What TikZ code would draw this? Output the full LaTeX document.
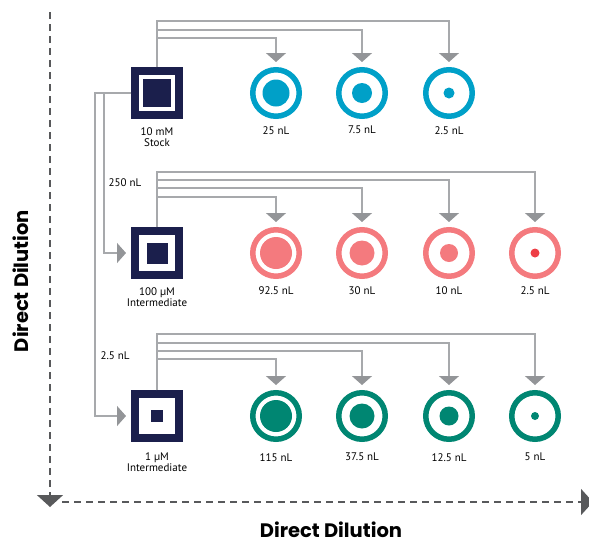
\documentclass[tikz,border=0pt]{standalone}
\usepackage{fontspec}
\setmainfont{PT Sans}
\newfontfamily\headfont{Poppins}
\usetikzlibrary{arrows.meta,positioning}

\definecolor{navy}{HTML}{1B1F4C}
\definecolor{wellblue}{HTML}{00A0C8}
\definecolor{wellpink}{HTML}{F47A7E}
\definecolor{dotred}{HTML}{EE3E46}
\definecolor{wellgreen}{HTML}{008672}
\definecolor{linegray}{HTML}{A7A9AC}
\definecolor{tipgray}{HTML}{939598}
\definecolor{axisgray}{HTML}{58595B}

\tikzset{
  vial/.style={draw=navy, line width=8pt, minimum size=44pt, inner sep=0pt},
  core/.style={fill=navy, inner sep=0pt},
  well/.style={circle, draw=#1, line width=5.5pt, minimum size=46.5pt, inner sep=0pt},
  drop/.style={circle, fill=#1, inner sep=0pt},
  link/.style={draw=linegray, line width=1.3pt, shorten >=5pt,
    -{Triangle[width=20pt,length=9pt,color=tipgray]}},
  dilaxis/.style={draw=axisgray, line width=1.5pt, dash pattern=on 7pt off 5pt,
    -{Triangle[width=26pt,length=12pt]}},
  lbl/.style={font=\fontsize{11}{11}\selectfont, align=center, inner sep=0pt},
  headline/.style={font=\headfont\bfseries\fontsize{19.5}{19.5}\selectfont, inner sep=0pt}
}

\begin{document}
\begin{tikzpicture}[x=1pt,y=-1pt]
\useasboundingbox (0,0) rectangle (589,544);

% axes
\coordinate (ytop) at (50,12);
\coordinate (ybot) at (50,507);
\coordinate (xleft) at (62,502);
\coordinate (xright) at (593,502);
\draw[dilaxis] (ytop) -- (ybot);
\draw[dilaxis] (xleft) -- (xright);
\node[headline, rotate=90] (vtitle) at (21,281) {Direct Dilution};
\node[headline] (htitle) at (331,530) {Direct Dilution};

% sources
\node[vial] (s1) at (157,93) {};
\node[core, minimum size=28pt] (k1) at (s1) {};
\node[vial] (s2) at (157,253) {};
\node[core, minimum size=21pt] (k2) at (s2) {};
\node[vial] (s3) at (157,416) {};
\node[core, minimum size=12pt] (k3) at (s3) {};
\node[lbl, below=8pt of s1] (n1) {10 mM\\Stock};
\node[lbl, below=8pt of s2] (n2) {100 µM\\Intermediate};
\node[lbl, below=10.5pt of s3] (n3) {1 µM\\Intermediate};

% row 1
\node[well=wellblue] (c11) at (276,93) {};
\node[well=wellblue] (c12) at (362,93) {};
\node[well=wellblue] (c13) at (449,93) {};
\node[drop=wellblue, minimum size=27pt] (d11) at (c11) {};
\node[drop=wellblue, minimum size=20pt] (d12) at (c12) {};
\node[drop=wellblue, minimum size=11pt] (d13) at (c13) {};
\node[lbl, below=7pt of c11] (v11) {25 nL};
\node[lbl, below=7pt of c12] (v12) {7.5 nL};
\node[lbl, below=7pt of c13] (v13) {2.5 nL};

% row 2
\node[well=wellpink] (c21) at (276,253) {};
\node[well=wellpink] (c22) at (362,253) {};
\node[well=wellpink] (c23) at (449,253) {};
\node[well=wellpink] (c24) at (535,253) {};
\node[drop=wellpink, minimum size=32pt] (d21) at (c21) {};
\node[drop=wellpink, minimum size=25pt] (d22) at (c22) {};
\node[drop=wellpink, minimum size=18pt] (d23) at (c23) {};
\node[drop=dotred, minimum size=9pt] (d24) at (c24) {};
\node[lbl, below=7pt of c21] (v21) {92.5 nL};
\node[lbl, below=7pt of c22] (v22) {30 nL};
\node[lbl, below=7pt of c23] (v23) {10 nL};
\node[lbl, below=7pt of c24] (v24) {2.5 nL};

% row 3
\node[well=wellgreen] (c31) at (276,416) {};
\node[well=wellgreen] (c32) at (362,416) {};
\node[well=wellgreen] (c33) at (449,416) {};
\node[well=wellgreen] (c34) at (535,416) {};
\node[drop=wellgreen, minimum size=32pt] (d31) at (c31) {};
\node[drop=wellgreen, minimum size=25pt] (d32) at (c32) {};
\node[drop=wellgreen, minimum size=19pt] (d33) at (c33) {};
\node[drop=wellgreen, minimum size=8pt] (d34) at (c34) {};
\node[lbl, below=11pt of c31] (v31) {115 nL};
\node[lbl, below=11pt of c32] (v32) {37.5 nL};
\node[lbl, below=11pt of c33] (v33) {12.5 nL};
\node[lbl, below=11pt of c34] (v34) {5 nL};

% transfers
\draw[link] (s1.north) -- ++(0,-29) -| (c11.north);
\draw[link] (s1.north) -- ++(0,-37) -| (c12.north);
\draw[link] (s1.north) -- ++(0,-46) -| (c13.north);
\draw[link] (s2.north) -- ++(0,-30) -| (c21.north);
\draw[link] (s2.north) -- ++(0,-39) -| (c22.north);
\draw[link] (s2.north) -- ++(0,-47) -| (c23.north);
\draw[link] (s2.north) -- ++(0,-55) -| (c24.north);
\draw[link] (s3.north) -- ++(0,-31) -| (c31.north);
\draw[link] (s3.north) -- ++(0,-39) -| (c32.north);
\draw[link] (s3.north) -- ++(0,-47) -| (c33.north);
\draw[link] (s3.north) -- ++(0,-56) -| (c34.north);

% intermediates
\coordinate (t2) at (104,0);
\coordinate (t3) at (95,0);
\draw[link] (s1.west) -- (s1.west -| t2) -- (s2.west -| t2) -- (s2.west);
\draw[link] (s1.west) -- (s1.west -| t3) -- (s3.west -| t3) -- (s3.west);
\node[lbl] (a2) at (125,183) {250 nL};
\node[lbl] (a3) at (115,356) {2.5 nL};
\end{tikzpicture}
\end{document}
